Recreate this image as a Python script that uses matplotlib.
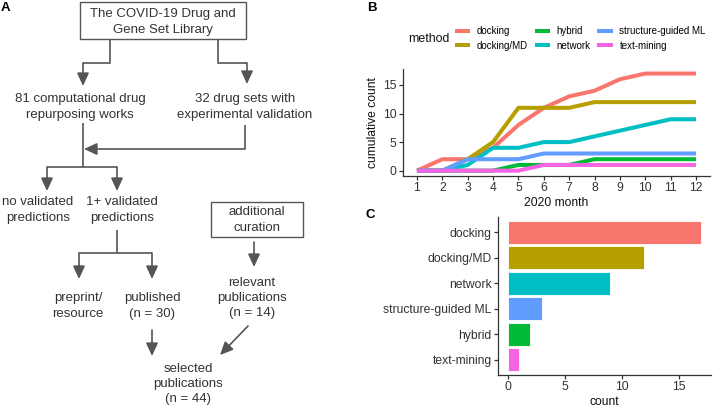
import matplotlib
matplotlib.use('Agg')
import matplotlib.pyplot as plt
from matplotlib.lines import Line2D
from matplotlib.patches import Rectangle

plt.rcParams['font.family'] = ['Liberation Sans', 'DejaVu Sans']

# 数据
months = list(range(1, 13))
methods = ['docking', 'docking/MD', 'hybrid', 'network', 'structure-guided ML', 'text-mining']
colors = ['#F8766D', '#B79F00', '#00BA38', '#00BFC4', '#619CFF', '#F564E3']
docking = [0, 2, 2, 4, 8, 11, 13, 14, 16, 17, 17, 17]
docking_md = [0, 0, 2, 5, 11, 11, 11, 12, 12, 12, 12, 12]
hybrid = [0, 0, 0, 0, 1, 1, 1, 2, 2, 2, 2, 2]
network = [0, 0, 1, 4, 4, 5, 5, 6, 7, 8, 9, 9]
sg_ml = [0, 0, 2, 2, 2, 3, 3, 3, 3, 3, 3, 3]
text_mining = [0, 0, 0, 0, 0, 1, 1, 1, 1, 1, 1, 1]
cumulative = [docking, docking_md, hybrid, network, sg_ml, text_mining]

# 柱状图 (从上到下)
bar_labels = ['docking', 'docking/MD', 'network', 'structure-guided ML', 'hybrid', 'text-mining']
bar_counts = [17, 12, 9, 3, 2, 1]
bar_colors = ['#F8766D', '#B79F00', '#00BFC4', '#619CFF', '#00BA38', '#F564E3']

W, H = 713, 408
GRAY = '#555555'
TXT = '#333333'

fig = plt.figure(figsize=(W / 100, H / 100), dpi=100)

# ---------- A: 流程图 (像素坐标) ----------
fa = fig.add_axes([0, 0, 1, 1])
fa.set_xlim(0, W)
fa.set_ylim(H, 0)
fa.axis('off')


def seg(xs, ys):
    fa.plot(xs, ys, color=GRAY, lw=1.2, solid_capstyle='butt', solid_joinstyle='miter')


def arrow(x0, y0, x1, y1):
    fa.annotate('', xy=(x1, y1), xytext=(x0, y0),
                arrowprops=dict(arrowstyle='-|>,head_length=0.65,head_width=0.3',
                                color=GRAY, lw=1.2, shrinkA=0, shrinkB=0,
                                mutation_scale=12))


def label(x, y, s):
    fa.text(x, y, s, ha='center', va='center', fontsize=9.5, color=TXT, linespacing=1.38)


fa.add_patch(Rectangle((80, 2), 166, 37, fill=False, ec=GRAY, lw=1.0))
label(163, 22, 'The COVID-19 Drug and\nGene Set Library')

seg([110, 110, 83], [39, 63, 63])
arrow(83, 63, 83, 86)
seg([218, 218, 247], [39, 63, 63])
arrow(247, 63, 247, 84)

label(80, 107, '81 computational drug\nrepurposing works')
label(245, 107, '32 drug sets with\nexperimental validation')

seg([245, 245], [125, 149])
arrow(245, 149, 84, 149)
seg([83, 83], [123, 167])
seg([47, 117], [167, 167])
arrow(47, 167, 47, 191)
arrow(117, 167, 117, 191)

label(38, 210, 'no validated\npredictions')
label(122, 210, '1+ validated\npredictions')

seg([117, 117], [230, 253])
seg([79, 152], [253, 253])
arrow(79, 253, 79, 279)
arrow(152, 253, 152, 279)

label(78, 306, 'preprint/\nresource')
label(152, 306, 'published\n(n = 30)')
arrow(152, 330, 152, 356)

fa.add_patch(Rectangle((211, 202), 92, 35, fill=False, ec=GRAY, lw=1.0))
label(257, 220, 'additional\ncuration')
arrow(254, 242, 254, 267)
label(252, 298, 'relevant\npublications\n(n = 14)')
arrow(248, 326, 220, 355)
label(188, 384, 'selected\npublications\n(n = 44)')

# ---------- B: 累计折线图 ----------
axb = fig.add_axes([403 / W, 1 - 175.5 / H, 307 / W, (175.5 - 68.7) / H])
for vals, c in zip(cumulative, colors):
    axb.plot(months, vals, color=c, lw=2.9, solid_capstyle='butt')
axb.set_xlim(0.45, 12.55)
axb.set_ylim(-0.85, 17.85)
axb.set_xticks(months)
axb.set_yticks([0, 5, 10, 15])
axb.set_xlabel('2020 month', fontsize=8.7, color='#111111', labelpad=2)
axb.set_ylabel('cumulative count', fontsize=8.7, color='#111111', labelpad=3)

# ---------- C: 柱状图 ----------
axc = fig.add_axes([498 / W, 1 - 375 / H, 213 / W, (375 - 216.7) / H])
ypos = list(range(len(bar_labels)))[::-1]
axc.barh(ypos, bar_counts, height=0.9, color=bar_colors, edgecolor='white', lw=0.6)
axc.set_yticks(ypos)
axc.set_yticklabels(bar_labels)
axc.set_ylim(-0.6, 5.6)
axc.set_xlim(-0.85, 17.85)
axc.set_xticks([0, 5, 10, 15])
axc.set_xlabel('count', fontsize=8.7, color='#111111', labelpad=2)

for ax in (axb, axc):
    for s in ('top', 'right'):
        ax.spines[s].set_visible(False)
    for s in ('left', 'bottom'):
        ax.spines[s].set_color('#333333')
        ax.spines[s].set_linewidth(0.9)
    ax.tick_params(length=3, width=0.9, color='#333333', labelsize=8.7,
                   labelcolor='#333333', pad=1.5)
    ax.set_facecolor('none')

# 图例
handles = [Line2D([0], [0], color=c, lw=2.9) for c in colors]
fig.legend(handles, methods, ncol=3, loc='upper left',
           bbox_to_anchor=(457 / W, 1 - 26 / H), frameon=False, fontsize=7,
           handlelength=1.15, handletextpad=0.9, columnspacing=0.9,
           labelspacing=0.5, borderpad=0, borderaxespad=0)
fig.text(408 / W, 1 - 39 / H, 'method', fontsize=8.9, color='#111111', va='center', ha='left')

# 面板标签
fig.text(1 / W, 1 - 8 / H, 'A', fontsize=9.5, fontweight='bold', va='center', ha='left')
fig.text(367 / W, 1 - 8 / H, 'B', fontsize=9.5, fontweight='bold', va='center', ha='left')
fig.text(365 / W, 1 - 215 / H, 'C', fontsize=9.5, fontweight='bold', va='center', ha='left')

fig.savefig('out.png', dpi=100)
